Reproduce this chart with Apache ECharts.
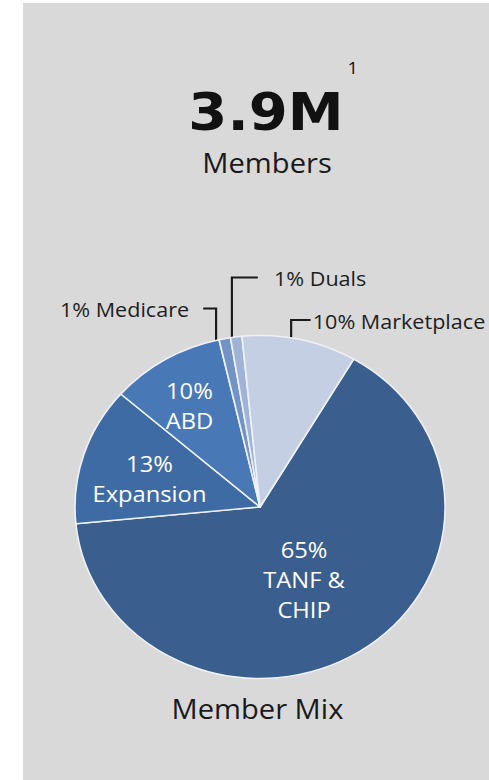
<!DOCTYPE html>
<html>
<head>
<meta charset="utf-8">
<script src="https://cdn.jsdelivr.net/npm/echarts@6/dist/echarts.min.js"></script>
<style>
  html, body { margin: 0; padding: 0; background: #fff; }
  #panel { position: absolute; left: 23px; top: 3px; width: 466px; height: 777px; background: #d9d9d9; }
  /* the source picture is slightly wider than tall, so the whole chart is stretched a bit */
  #chart { position: absolute; left: 0; top: 0; width: 453px; height: 780px;
           transform: scaleX(1.079); transform-origin: 0 0; }
</style>
</head>
<body>
<div id="panel"></div>
<div id="chart"></div>
<script>
// data
var categories = ['TANF & CHIP', 'Expansion', 'ABD', 'Medicare', 'Duals', 'Marketplace'];
var shares = [65, 13, 10, 1, 1, 10];
var sliceColors = ['#3a5e8d', '#3e6ba4', '#4878b6', '#7393c6', '#9fb3d7', '#c4cfe3'];
var labelSide = ['inside', 'inside', 'inside', 'outside', 'outside', 'outside'];
var headline = '3.9M';
var footnote = '1';
var headlineSub = 'Members';
var chartTitle = 'Member Mix';

var FONT = '"Open Sans", "Noto Sans", sans-serif';
var CX = 241, CY = 507, R = 171.5;

// small nudges for the labels inside the slices
var insideNudge = { 0: [-7, -2], 1: [-18, -1], 2: [-20, -25] };
// elbow leader lines for the thin slices
var leaders = {
    3: { shift: -8, up: 32, run: -12, gap: 13, textDy: 1 },
    4: { shift: -4, up: 60, run: 24, gap: 15, textDy: 1 },
    5: { shift: -8, up: 18, run: 18, gap: 2, textDy: 1 }
};

var pieData = categories.map(function (name, i) {
    var inside = labelSide[i] == 'inside';
    return {
        name: name,
        value: shares[i],
        itemStyle: { color: sliceColors[i] },
        label: inside ? {
            position: 'inside',
            color: '#fff',
            fontSize: 22,
            lineHeight: 30,
            formatter: function (p) { return p.value + '%\n' + p.name.replace(' & ', ' &\n'); }
        } : {
            position: 'outside',
            color: '#1e1e1e',
            fontSize: 20,
            formatter: function (p) { return p.value + '% ' + p.name; }
        },
        labelLine: { show: !inside }
    };
});

var chart = echarts.init(document.getElementById('chart'), null, { renderer: 'svg' });

var option = {
    backgroundColor: 'transparent',
    animation: false,
    graphic: [
        {
            type: 'text', x: 246.5, y: 112.5,
            style: {
                text: headline, fill: '#111', font: 'bold 52px "DejaVu Sans", sans-serif',
                textAlign: 'center', textVerticalAlign: 'middle'
            }
        },
        {
            type: 'text', x: 327, y: 67,
            style: {
                text: footnote, fill: '#111', font: '17px ' + FONT,
                textAlign: 'center', textVerticalAlign: 'middle'
            }
        },
        {
            type: 'text', x: 247.5, y: 162,
            style: {
                text: headlineSub, fill: '#1a1a1a', font: '27px ' + FONT,
                textAlign: 'center', textVerticalAlign: 'middle'
            }
        },
        {
            type: 'text', x: 238.6, y: 708,
            style: {
                text: chartTitle, fill: '#1a1a1a', font: '27px ' + FONT,
                textAlign: 'center', textVerticalAlign: 'middle'
            }
        }
    ],
    series: [{
        type: 'pie',
        center: [CX, CY],
        radius: [0, R],
        startAngle: 59.6,
        clockwise: true,
        avoidLabelOverlap: false,
        data: pieData,
        itemStyle: { borderColor: '#eef2f8', borderWidth: 1.5 },
        label: { fontFamily: FONT },
        labelLine: { lineStyle: { color: '#1a1a1a', width: 2 } },
        emphasis: { disabled: true },
        labelLayout: function (params) {
            var i = params.dataIndex;
            if (insideNudge[i]) {
                return { dx: insideNudge[i][0], dy: insideNudge[i][1] };
            }
            var L = leaders[i];
            if (!L || !params.labelLinePoints) return {};
            var ax = params.labelLinePoints[0][0] + L.shift;
            var ay = CY - Math.sqrt(R * R - (ax - CX) * (ax - CX));
            var ey = ay - L.up;
            var ex = ax + L.run;
            return {
                x: L.run < 0 ? ex - L.gap : ex + L.gap,
                y: ey + L.textDy,
                align: L.run < 0 ? 'right' : 'left',
                verticalAlign: 'middle',
                labelLinePoints: [[ax, ay], [ax, ey], [ex, ey]]
            };
        }
    }]
};

chart.setOption(option);
</script>
</body>
</html>
